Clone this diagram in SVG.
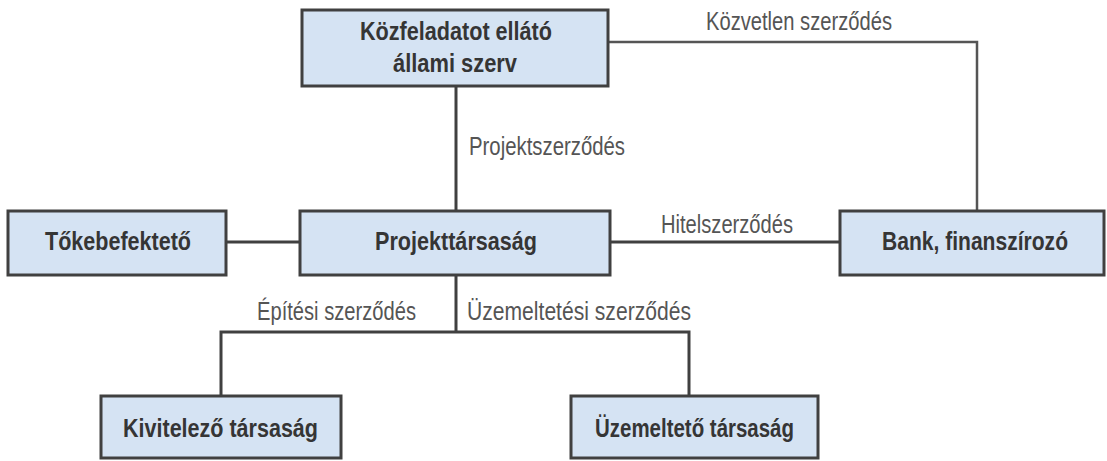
<svg xmlns="http://www.w3.org/2000/svg" width="1107" height="461" viewBox="0 0 1107 461">
<style>
.box{fill:#d5e3f3;stroke:#404040;stroke-width:3}
.bt{font-family:"Liberation Sans Narrow","Liberation Sans",Arial,sans-serif;font-weight:bold;font-size:25px;fill:#353535}
.lt{font-family:"Liberation Sans Narrow","Liberation Sans",Arial,sans-serif;font-size:25px;fill:#555}
.c{fill:none;stroke:#404040;stroke-width:3}
.c2{fill:none;stroke:#555;stroke-width:2.5}
</style>
<rect width="1107" height="461" fill="#fff"/>
<g id="connectors">
<path class="c" d="M456 86V211"/>
<path class="c2" d="M608 42H977V211"/>
<path class="c" d="M226 242H300"/>
<path class="c" d="M610 242H840"/>
<path class="c" d="M456 275V332M221 396V332H689V396"/>
<text class="lt" x="469" y="155" textLength="156" lengthAdjust="spacingAndGlyphs">Projektszerződés</text>
<text class="lt" x="706" y="30" textLength="186" lengthAdjust="spacingAndGlyphs">Közvetlen szerződés</text>
<text class="lt" x="661" y="233" textLength="132" lengthAdjust="spacingAndGlyphs">Hitelszerződés</text>
<text class="lt" x="257" y="320" textLength="159" lengthAdjust="spacingAndGlyphs">Építési szerződés</text>
<text class="lt" x="467" y="320" textLength="224" lengthAdjust="spacingAndGlyphs">Üzemeltetési szerződés</text>
</g>
<g id="kozfeladat">
<rect class="box" x="302" y="10" width="306" height="76"/>
<text class="bt" x="360" y="40" textLength="192" lengthAdjust="spacingAndGlyphs">Közfeladatot ellátó</text>
<text class="bt" x="393" y="72" textLength="124" lengthAdjust="spacingAndGlyphs">állami szerv</text>
</g>
<g id="tokebefekteto">
<rect class="box" x="8" y="211" width="218" height="64"/>
<text class="bt" x="45" y="250" textLength="146" lengthAdjust="spacingAndGlyphs">Tőkebefektető</text>
</g>
<g id="projekttarsasag">
<rect class="box" x="300" y="211" width="310" height="64"/>
<text class="bt" x="375" y="250" textLength="162" lengthAdjust="spacingAndGlyphs">Projekttársaság</text>
</g>
<g id="bank">
<rect class="box" x="840" y="211" width="264" height="64"/>
<text class="bt" x="882" y="250" textLength="186" lengthAdjust="spacingAndGlyphs">Bank, finanszírozó</text>
</g>
<g id="kivitelezo">
<rect class="box" x="101" y="396" width="240" height="62"/>
<text class="bt" x="123" y="437" textLength="195" lengthAdjust="spacingAndGlyphs">Kivitelező társaság</text>
</g>
<g id="uzemelteto">
<rect class="box" x="571" y="396" width="247" height="62"/>
<text class="bt" x="595" y="437" textLength="199" lengthAdjust="spacingAndGlyphs">Üzemeltető társaság</text>
</g>
</svg>
